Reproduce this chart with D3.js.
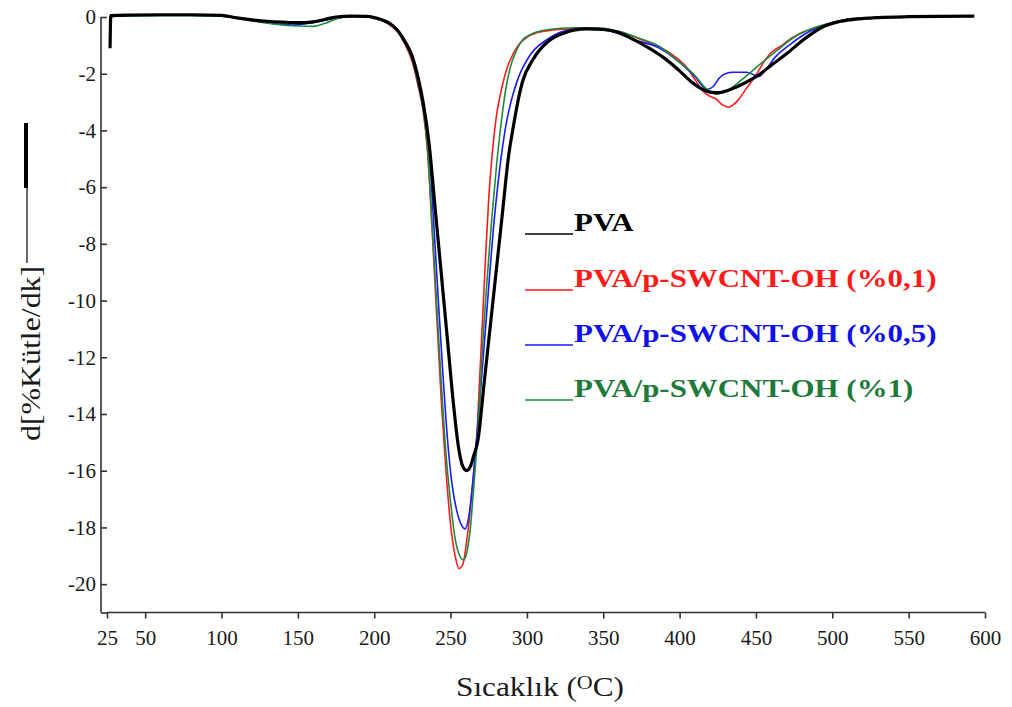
<!DOCTYPE html>
<html>
<head>
<meta charset="utf-8">
<script src="https://cdn.jsdelivr.net/npm/d3@7"></script>
<style>
  html, body { margin: 0; padding: 0; background: #fff; }
  svg { display: block; }
  svg text { font-family: "Liberation Serif", "Tinos", "DejaVu Serif", serif; }
</style>
</head>
<body>
<svg id="chart" width="1012" height="707"></svg>
<script>
// ---------- data (temperature °C, d[%mass/min]) ----------
const xTicks = [25, 50, 100, 150, 200, 250, 300, 350, 400, 450, 500, 550, 600];
const yTicks = [0, -2, -4, -6, -8, -10, -12, -14, -16, -18, -20];

const pva = [[27,-1.1],[27.5,0.05],[40,0.07],[60,0.08],[80,0.08],[100,0.06],[110,-0.03],[120,-0.1],[130,-0.15],[140,-0.18],[150,-0.2],[160,-0.17],[168,-0.08],[175,0],[185,0.03],[195,0.02],[200,-0.02],[205,-0.1],[210,-0.22],[215,-0.45],[220,-0.85],[225,-1.4],[229,-2.2],[232,-3.0],[236,-4.5],[240,-6.8],[244,-9.1],[248,-11.4],[252,-13.7],[255,-15.1],[258,-15.85],[260.5,-16.0],[263,-15.85],[265,-15.5],[268,-14.9],[272,-12.9],[276,-10.9],[280,-8.9],[284,-6.9],[288,-4.9],[291,-3.9],[294,-3.0],[297,-2.3],[304,-1.5],[313,-0.9],[324,-0.57],[339,-0.42],[350,-0.44],[360,-0.55],[370,-0.8],[380,-1.1],[390,-1.45],[400,-1.9],[408,-2.3],[415,-2.55],[420,-2.65],[425,-2.67],[432,-2.58],[440,-2.4],[447,-2.2],[453,-2.0],[460,-1.7],[470,-1.3],[480,-0.85],[487,-0.57],[495,-0.32],[503,-0.18],[515,-0.08],[530,-0.02],[550,0.01],[570,0.02],[593,0.03]];

const pva01 = [[27,0.02],[40,0.05],[60,0.06],[80,0.06],[100,0.04],[110,-0.02],[120,-0.1],[130,-0.15],[140,-0.2],[150,-0.22],[160,-0.18],[170,-0.08],[178,0],[188,0.03],[196,0.02],[200,-0.02],[205,-0.12],[210,-0.28],[215,-0.5],[220,-0.95],[225,-1.6],[229,-2.5],[232,-3.3],[235,-4.8],[238,-7.6],[241,-10.6],[244,-13.6],[247,-16.0],[250,-17.9],[253,-19.0],[255.5,-19.45],[258,-19.3],[261,-18.3],[263,-17.3],[265,-16.2],[267,-15.0],[269,-12.8],[271,-10.6],[273,-8.4],[275,-6.4],[277,-5.0],[280,-3.5],[284,-2.4],[287,-1.8],[291,-1.3],[295,-0.95],[300,-0.72],[307,-0.55],[317,-0.46],[330,-0.42],[345,-0.42],[360,-0.5],[375,-0.8],[387,-1.06],[397,-1.4],[405,-1.8],[410,-2.2],[415,-2.6],[420,-2.8],[424,-2.9],[428,-3.1],[432,-3.18],[435,-3.1],[438,-2.95],[444,-2.5],[450,-2.05],[455,-1.6],[460,-1.25],[467,-1.0],[474,-0.72],[482,-0.5],[490,-0.38],[500,-0.2],[510,-0.08],[520,-0.03]];

const pva05 = [[27,0.02],[40,0.05],[60,0.06],[80,0.06],[100,0.04],[110,-0.03],[120,-0.12],[130,-0.2],[140,-0.26],[147,-0.28],[155,-0.24],[165,-0.15],[175,-0.03],[185,0.02],[196,0.02],[200,-0.02],[205,-0.1],[210,-0.26],[215,-0.48],[220,-0.9],[225,-1.5],[229,-2.4],[232,-3.2],[236,-4.7],[239,-7.3],[242,-10.0],[245,-12.6],[248,-14.9],[251,-16.5],[254,-17.4],[257,-17.9],[259.5,-18.05],[262,-17.6],[264,-16.7],[266,-15.5],[269,-13.6],[272,-11.6],[275,-9.5],[278,-7.5],[281,-5.9],[284,-4.6],[287,-3.6],[290,-2.9],[294,-2.2],[302,-1.35],[313,-0.8],[324,-0.5],[335,-0.42],[345,-0.42],[355,-0.5],[370,-0.8],[387,-1.1],[400,-1.6],[410,-2.1],[418,-2.55],[422,-2.45],[426,-2.15],[430,-2.0],[435,-1.95],[444,-1.95],[449,-2.05],[452,-2.1],[455,-1.95],[458,-1.75],[462,-1.45],[468,-1.15],[474,-0.9],[482,-0.6],[490,-0.38],[500,-0.2],[510,-0.08],[518,-0.04]];

const pva1 = [[27,0.0],[33,0.05],[40,0.04],[60,0.05],[80,0.05],[100,0.03],[110,-0.04],[120,-0.14],[130,-0.22],[140,-0.28],[150,-0.32],[160,-0.33],[168,-0.22],[176,-0.05],[185,0.02],[196,0.02],[200,-0.02],[205,-0.1],[210,-0.26],[215,-0.48],[220,-0.9],[225,-1.5],[229,-2.4],[232,-3.2],[235,-4.7],[238,-7.4],[241,-10.2],[244,-13.0],[247,-15.4],[250,-17.1],[253,-18.4],[256,-19.0],[258.5,-19.15],[261,-18.8],[263,-18.0],[265,-16.7],[267,-15.3],[269,-13.6],[271,-11.6],[274,-9.2],[277,-7.1],[280,-5.3],[283,-3.8],[286,-2.6],[289,-1.8],[293,-1.2],[297,-0.82],[303,-0.6],[308,-0.5],[322,-0.4],[330,-0.38],[345,-0.38],[360,-0.5],[375,-0.78],[387,-1.05],[400,-1.6],[409,-2.0],[418,-2.55],[424,-2.72],[431,-2.6],[441,-2.2],[452,-1.7],[464,-1.17],[474,-0.75],[487,-0.4],[500,-0.2],[512,-0.06],[520,-0.03]];

const seriesNames = ["PVA", "PVA/p-SWCNT-OH (%0,1)", "PVA/p-SWCNT-OH (%0,5)", "PVA/p-SWCNT-OH (%1)"];
const seriesColors = ["#000000", "#ff1a1a", "#1a1aff", "#1e8a3e"];
const textColors = ["#000000", "#ff1a1a", "#1010e8", "#1d7a3a"];

// ---------- drawing ----------
const svg = d3.select("#chart");
const x = d3.scaleLinear().domain([25, 600]).range([107, 985]);
const y = d3.scaleLinear().domain([-21, 0]).range([612.5, 17]);

const serif = '"Liberation Serif", "Tinos", "DejaVu Serif", serif';

// axes
const yAxis = d3.axisLeft(y).tickValues(yTicks.concat([-21])).tickSize(6).tickPadding(5)
  .tickFormat(d => d === -21 ? "" : String(d));
const gy = svg.append("g").attr("transform", `translate(${x(25)},0)`).call(yAxis);
const xAxis = d3.axisBottom(x).tickValues(xTicks).tickSize(6).tickPadding(12).tickFormat(d => String(d));
const gx = svg.append("g").attr("transform", `translate(0,${y(-21)})`).call(xAxis);

[gx, gy].forEach(g => {
  g.attr("font-family", serif);
  g.select(".domain").attr("stroke", "#333").attr("stroke-width", 1.6);
  g.selectAll(".tick line").attr("stroke", "#333").attr("stroke-width", 1.6);
  g.selectAll(".tick text").attr("fill", "#1a1a1a").attr("font-family", serif).attr("font-size", 21);
});
gy.select(".domain").attr("d", `M-6,${y(-21)}V${y(0)}`);
gx.select(".domain").attr("d", `M${x(25)},0H${x(600)}`);

// lines
const line = d3.line().x(d => x(d[0])).y(d => y(d[1])).curve(d3.curveMonotoneX);
const data = [pva, pva01, pva05, pva1];
const order = [1, 2, 3, 0];
order.forEach(i => {
  svg.append("path").datum(data[i])
    .attr("fill", "none")
    .attr("stroke", seriesColors[i])
    .attr("stroke-width", i === 0 ? 3.2 : 1.6)
    .attr("stroke-linejoin", "round")
    .attr("d", line);
});

// legend
const legBase = [231, 287, 342, 397];
seriesNames.forEach((name, i) => {
  svg.append("line").attr("x1", 525).attr("x2", 573)
    .attr("y1", legBase[i] + 3).attr("y2", legBase[i] + 3)
    .attr("stroke", seriesColors[i]).attr("stroke-width", 1.6);
  svg.append("text").attr("transform", `translate(574,${legBase[i]}) scale(1.19,1)`)
    .attr("fill", textColors[i])
    .attr("font-family", serif).attr("font-weight", "bold").attr("font-size", 26)
    .text(name);
});

// x axis title
const xt = svg.append("text").attr("transform", "translate(540,696) scale(1.16,1)").attr("text-anchor", "middle")
  .attr("fill", "#1a1a1a").attr("font-family", serif).attr("font-size", 27);
xt.append("tspan").text("Sıcaklık (");
xt.append("tspan").attr("dy", -7).attr("font-size", 19).text("O");
xt.append("tspan").attr("dy", 7).text("C)");

// y axis title
svg.append("text").attr("transform", "translate(40,441) rotate(-90) scale(1.18,1)")
  .attr("fill", "#1a1a1a").attr("font-family", serif).attr("font-size", 27)
  .text("d[%Kütle/dk]");
svg.append("line").attr("x1", 27).attr("x2", 27).attr("y1", 188).attr("y2", 263)
  .attr("stroke", "#1a1a1a").attr("stroke-width", 1.3);
svg.append("line").attr("x1", 26).attr("x2", 26).attr("y1", 123).attr("y2", 188)
  .attr("stroke", "#000").attr("stroke-width", 4);
</script>
</body>
</html>
